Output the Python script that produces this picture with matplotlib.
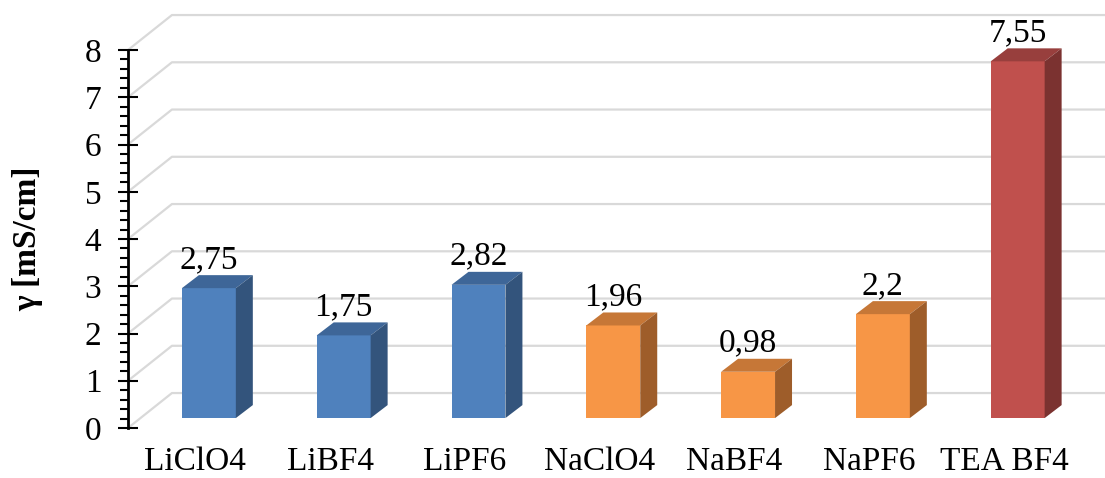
import numpy as np
import matplotlib
matplotlib.use("Agg")
import matplotlib.pyplot as plt
from matplotlib.patches import Polygon
from matplotlib.ticker import MultipleLocator

# dane: przewodność elektrolitów
categories = ["LiClO4", "LiBF4", "LiPF6", "NaClO4", "NaBF4", "NaPF6", "TEA BF4"]
values = [2.75, 1.75, 2.82, 1.96, 0.98, 2.2, 7.55]
value_labels = ["2,75", "1,75", "2,82", "1,96", "0,98", "2,2", "7,55"]
groups = ["Li", "Li", "Li", "Na", "Na", "Na", "TEA"]

# kolory: (przód, góra, bok)
colors = {
    "Li": ("#4F81BD", "#3E6698", "#33547C"),
    "Na": ("#F79646", "#C67737", "#9E5D2A"),
    "TEA": ("#C0504D", "#983F3D", "#7B3230"),
}

plt.rcParams["font.family"] = ["Liberation Serif", "DejaVu Serif"]
FS = 24

W, H = 1105, 478
fig = plt.figure(figsize=(W / 100, H / 100), dpi=100)
ax = fig.add_axes([128 / W, 50 / H, 943.6 / W, 378 / H])
ax.set_xlim(-0.5, 6.5)
ax.set_ylim(0, 8)

# przesunięcia "głębokości" w jednostkach danych
WALL_DX, WALL_DY = 0.326, 0.74
FRONT_DX, FRONT_DY = 0.10, 0.21
BAR_DX, BAR_DY = 0.126, 0.275
BAR_W = 0.40

# siatka na tylnej ścianie i lewej ścianie
for v in range(0, 9):
    ax.plot([-0.5, -0.5 + WALL_DX, 7.5], [v, v + WALL_DY, v + WALL_DY],
            color="#D9D9D9", lw=1.6, clip_on=False, zorder=1)

# słupki 3D
for i, (val, g) in enumerate(zip(values, groups)):
    front, top, side = colors[g]
    x0 = i + FRONT_DX - BAR_W / 2
    x1 = x0 + BAR_W
    y0 = FRONT_DY
    y1 = FRONT_DY + val
    ax.add_patch(Polygon([(x0, y0), (x1, y0), (x1, y1), (x0, y1)],
                         closed=True, fc=front, ec="none", zorder=3, clip_on=False))
    ax.add_patch(Polygon([(x0, y1), (x1, y1), (x1 + BAR_DX, y1 + BAR_DY), (x0 + BAR_DX, y1 + BAR_DY)],
                         closed=True, fc=top, ec="none", zorder=3, clip_on=False))
    ax.add_patch(Polygon([(x1, y0), (x1 + BAR_DX, y0 + BAR_DY), (x1 + BAR_DX, y1 + BAR_DY), (x1, y1)],
                         closed=True, fc=side, ec="none", zorder=3, clip_on=False))
    ax.text(i + FRONT_DX, y1 + BAR_DY + 0.15, value_labels[i], ha="center", va="baseline",
            fontsize=FS, zorder=4, clip_on=False)

# osie
for s in ["top", "right", "bottom"]:
    ax.spines[s].set_visible(False)
ax.spines["left"].set_linewidth(2)
ax.spines["left"].set_zorder(5)

ax.yaxis.set_major_locator(MultipleLocator(1))
ax.yaxis.set_minor_locator(MultipleLocator(0.2))
ax.tick_params(axis="y", which="major", direction="inout", length=14.4, width=1.5,
               labelsize=FS, pad=12)
ax.tick_params(axis="y", which="minor", direction="out", length=5.8, width=1.5)

ax.set_xticks(range(len(categories)))
ax.set_xticklabels(categories, fontsize=FS)
ax.tick_params(axis="x", length=0, pad=13)

ax.set_ylabel("γ [mS/cm]", fontsize=FS, fontweight="bold", labelpad=30)
ax.patch.set_visible(False)

fig.savefig("out.png", dpi=100)
